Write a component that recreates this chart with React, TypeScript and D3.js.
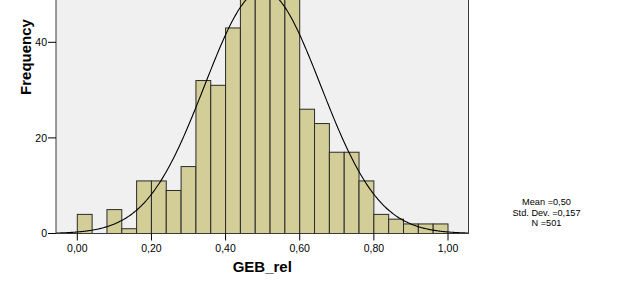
import React from "react";
import * as d3 from "d3";

const binStarts = [0.0, 0.04, 0.08, 0.12, 0.16, 0.2, 0.24, 0.28, 0.32, 0.36, 0.4, 0.44, 0.48, 0.52, 0.56, 0.6, 0.64, 0.68, 0.72, 0.76, 0.8, 0.84, 0.88, 0.92, 0.96];
const binCounts = [4, 0, 5, 1, 11, 11, 9, 14, 32, 31, 43, 56, 60, 63, 54, 26, 23, 17, 17, 11, 4, 3, 2, 2, 2];
const binWidth = 0.04;
const xTicks = [0, 0.2, 0.4, 0.6, 0.8, 1.0];
const yTicks = [0, 20, 40];
const statLines = ["Mean =0,50", "Std. Dev. =0,157", "N =501"];
const mean = 0.5;
const sd = 0.157;
const n = 501;

const W = 625;
const H = 285;
const left = 56;
const right = 468.5;
const bottom = 233.5;
const pxPerUnit = 4.78;
const yMax = 60;

export default function App() {
  const x = d3.scaleLinear().domain([0, 1]).range([77.3, 448]);
  const xMin = x.invert(left);
  const xMax = x.invert(right);
  const y = d3.scaleLinear().domain([0, yMax]).range([bottom, bottom - yMax * pxPerUnit]);
  const top = y(yMax);

  const curveXs = d3.range(0, 301).map((i) => xMin + ((xMax - xMin) * i) / 300);
  const pdf = (v: number) =>
    (n * binWidth) / (sd * Math.sqrt(2 * Math.PI)) * Math.exp(-0.5 * ((v - mean) / sd) ** 2);
  const line = d3
    .line<number>()
    .x((d) => x(d))
    .y((d) => y(pdf(d)))
    .curve(d3.curveMonotoneX);

  const fmt = (v: number) => v.toFixed(2).replace(".", ",");
  const font = "'Liberation Sans', Arial, sans-serif";

  return (
    <svg
      width={W}
      height={H}
      style={{ position: "absolute", left: 0, top: 0, background: "#fff" }}
      fontFamily={font}
    >
      <defs>
        <clipPath id="plotclip">
          <rect x={left} y={top} width={right - left} height={bottom - top} />
        </clipPath>
      </defs>
      <rect x={left} y={top} width={right - left} height={bottom - top} fill="#f0f0f0" />
      <g clipPath="url(#plotclip)">
        {binStarts.map((s, i) =>
          binCounts[i] > 0 ? (
            <rect
              key={i}
              x={x(s)}
              y={y(binCounts[i])}
              width={x(s + binWidth) - x(s)}
              height={bottom - y(binCounts[i])}
              fill="#d3ce98"
              stroke="#2a2a2a"
              strokeWidth={1}
            />
          ) : null
        )}
        <path d={line(curveXs) || ""} fill="none" stroke="#000" strokeWidth={1.1} />
      </g>
      <rect
        x={left}
        y={top}
        width={right - left}
        height={bottom - top}
        fill="none"
        stroke="#3a3a3a"
        strokeWidth={1}
      />
      {yTicks.map((t) => (
        <g key={t}>
          <line x1={left - 8} x2={left} y1={y(t)} y2={y(t)} stroke="#000" />
          <text x={left - 9} y={y(t)} dy="0.35em" textAnchor="end" fontSize={10.5} fill="#000">
            {t}
          </text>
        </g>
      ))}
      {xTicks.map((t) => (
        <g key={t}>
          <line x1={x(t)} x2={x(t)} y1={bottom} y2={bottom + 7} stroke="#000" />
          <text x={x(t)} y={bottom + 18} textAnchor="middle" fontSize={10.5} fill="#000">
            {fmt(t)}
          </text>
        </g>
      ))}
      <text
        x={(left + right) / 2}
        y={272}
        textAnchor="middle"
        fontSize={15}
        fontWeight="bold"
        fill="#000"
      >
        GEB_rel
      </text>
      <text
        transform={`translate(31,57) rotate(-90)`}
        textAnchor="middle"
        fontSize={15}
        fontWeight="bold"
        fill="#000"
      >
        Frequency
      </text>
      {statLines.map((s, i) => (
        <text
          key={s}
          x={546.5}
          y={205 + i * 10.6}
          textAnchor="middle"
          fontSize={9.2}
          fill="#000"
        >
          {s}
        </text>
      ))}
    </svg>
  );
}
